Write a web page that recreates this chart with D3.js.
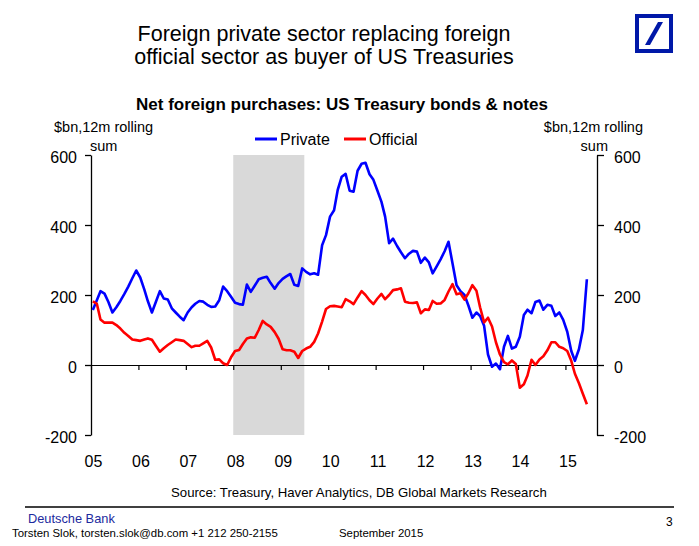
<!DOCTYPE html>
<html>
<head>
<meta charset="utf-8">
<script src="https://cdn.jsdelivr.net/npm/d3@7"></script>
<style>
  html, body { margin: 0; padding: 0; background: #fff; }
  svg { display: block; }
  text { font-family: "Liberation Sans", Arial, sans-serif; fill: #000; }
</style>
</head>
<body>
<svg id="chart" width="699" height="546"></svg>
<script>
// ---- Data (monthly, Jan 2005 .. Jun 2015), $bn 12m rolling sum ----
const startYear = 2005;
const privateSeries = [
  157,185,211,204,180,150,165,183,203,224,
  248,270,250,216,182,150,180,211,190,187,
  162,150,138,128,150,165,175,183,181,172,
  166,167,185,224,211,195,178,174,172,230,
  209,227,245,249,252,234,218,234,246,254,
  260,229,226,276,266,259,262,258,342,371,
  424,442,500,538,546,498,495,555,575,578,
  545,529,498,466,424,348,361,340,322,305,
  318,326,324,292,307,293,262,282,302,325,
  352,290,228,211,200,170,135,150,140,112,
  30,-5,4,-12,52,83,47,52,81,143,
  158,148,180,184,158,172,169,140,150,129,
  95,40,12,45,100,245
];
const officialSeries = [
  182,175,130,121,121,121,114,104,92,83,
  73,71,69,73,76,72,55,38,48,57,
  65,73,71,69,60,51,55,55,62,69,
  50,15,16,5,0,22,40,43,60,76,
  79,78,100,126,116,109,94,75,45,42,
  42,38,20,40,47,52,66,90,124,160,
  168,169,167,165,188,182,174,193,211,200,
  185,174,190,203,188,200,214,216,219,181,
  178,177,179,148,159,157,183,175,176,186,
  210,231,202,205,187,205,228,212,165,122,
  135,110,65,30,8,2,13,3,-65,-55,
  -30,15,0,16,25,42,65,65,52,48,
  40,12,-25,-52,-82,-112
];
const seriesNames = ["Private", "Official"];
const seriesColors = ["#0000ff", "#ff0000"];
const yTicks = [-200, 0, 200, 400, 600];
const recession = [new Date(2008, 0, 1), new Date(2009, 6, 1)];
const xDomain = [new Date(2005, 0, 1), new Date(2015, 8, 1)];

const titleLines = ["Foreign private sector replacing foreign", "official sector as buyer of US Treasuries"];
const subtitle = "Net foreign purchases: US Treasury bonds & notes";
const unitLines = ["$bn,12m rolling", "sum"];
const sourceText = "Source: Treasury, Haver Analytics, DB Global Markets Research";

// ---- Setup ----
const svg = d3.select("#chart");
const x = d3.scaleTime().domain(xDomain).range([91, 597]);
const y = d3.scaleLinear().domain([-200, 600]).range([435, 155]);
const months = privateSeries.map((_, i) => new Date(startYear, i, 15));

// Recession shading
svg.append("rect")
  .attr("x", x(recession[0])).attr("y", y(600))
  .attr("width", x(recession[1]) - x(recession[0]))
  .attr("height", y(-200) - y(600))
  .attr("fill", "#d9d9d9");

// Left axis
const fmt = d => String(d);
const gl = svg.append("g").attr("transform", "translate(91,0)")
  .call(d3.axisLeft(y).tickValues(yTicks).tickFormat(fmt).tickSize(6).tickSizeOuter(0).tickPadding(8));
// Right axis
const gr = svg.append("g").attr("transform", "translate(597,0)")
  .call(d3.axisRight(y).tickValues(yTicks).tickFormat(fmt).tickSize(7).tickSizeOuter(0).tickPadding(10));
[gl, gr].forEach(g => {
  g.selectAll("text").attr("font-size", 16).attr("font-family", '"Liberation Sans", Arial, sans-serif').attr("dy", "0.45em");
  g.selectAll("line, path").attr("stroke", "#000").attr("stroke-width", 1.3);
});

// Zero line with year ticks
const gx = svg.append("g").attr("transform", `translate(0,${y(0)})`)
  .call(d3.axisBottom(x).ticks(d3.timeYear.every(1)).tickSize(5).tickSizeOuter(0).tickFormat(""));
gx.selectAll("line, path").attr("stroke", "#000").attr("stroke-width", 1.2);

// Year labels
const gxl = svg.append("g").attr("transform", "translate(2,456)")
  .call(d3.axisBottom(x).ticks(d3.timeYear.every(1)).tickSize(0).tickPadding(0).tickFormat(d3.timeFormat("%y")));
gxl.select(".domain").remove();
gxl.selectAll("text").attr("font-size", 16).attr("font-family", '"Liberation Sans", Arial, sans-serif');

// Lines
const line = d3.line().x((d, i) => x(months[i])).y(d => y(d));
[privateSeries, officialSeries].forEach((s, k) => {
  svg.append("path").datum(s)
    .attr("d", line)
    .attr("fill", "none")
    .attr("stroke", seriesColors[k])
    .attr("stroke-width", 2.6)
    .attr("stroke-linejoin", "round");
});

// Titles
svg.selectAll(".title").data(titleLines).enter().append("text")
  .attr("x", 324).attr("y", (d, i) => 41 + i * 23)
  .attr("text-anchor", "middle").attr("font-size", 21.5)
  .text(d => d);
svg.append("text").attr("x", 342).attr("y", 110)
  .attr("text-anchor", "middle").attr("font-size", 17).attr("font-weight", "bold")
  .text(subtitle);

// Unit labels
svg.append("text").attr("x", 54).attr("y", 132).attr("font-size", 14.5).text(unitLines[0]);
svg.append("text").attr("x", 90).attr("y", 151).attr("font-size", 14.5).text(unitLines[1]);
svg.append("text").attr("x", 643).attr("y", 132).attr("font-size", 14.5).attr("text-anchor", "end").text(unitLines[0]);
svg.append("text").attr("x", 608).attr("y", 151).attr("font-size", 14.5).attr("text-anchor", "end").text(unitLines[1]);

// Legend
const legendX = [255, 344];
seriesNames.forEach((n, k) => {
  svg.append("line").attr("x1", legendX[k]).attr("x2", legendX[k] + 22)
    .attr("y1", 139).attr("y2", 139)
    .attr("stroke", seriesColors[k]).attr("stroke-width", 3);
  svg.append("text").attr("x", legendX[k] + 25).attr("y", 145).attr("font-size", 16).text(n);
});

// Source
svg.append("text").attr("x", 171).attr("y", 497).attr("font-size", 13.2).text(sourceText);

// Footer
svg.append("line").attr("x1", 25).attr("x2", 674).attr("y1", 507).attr("y2", 507)
  .attr("stroke", "#000").attr("stroke-width", 1.3);
svg.append("text").attr("x", 28).attr("y", 523).attr("font-size", 12.8).style("fill", "#1c2a9e").text("Deutsche Bank");
svg.append("text").attr("x", 12).attr("y", 537).attr("font-size", 11.4).text("Torsten Slok, torsten.slok@db.com +1 212 250-2155");
svg.append("text").attr("x", 339).attr("y", 537).attr("font-size", 11.4).text("September 2015");
svg.append("text").attr("x", 666).attr("y", 526).attr("font-size", 12).text("3");

// Logo
const logo = svg.append("g").attr("transform", "translate(635,14)");
logo.append("rect").attr("x", 2).attr("y", 2).attr("width", 34).attr("height", 35)
  .attr("fill", "none").attr("stroke", "#0018a8").attr("stroke-width", 4);
logo.append("polygon").attr("points", "10,31 15,31 28,8 23,8").attr("fill", "#0018a8");
</script>
</body>
</html>
